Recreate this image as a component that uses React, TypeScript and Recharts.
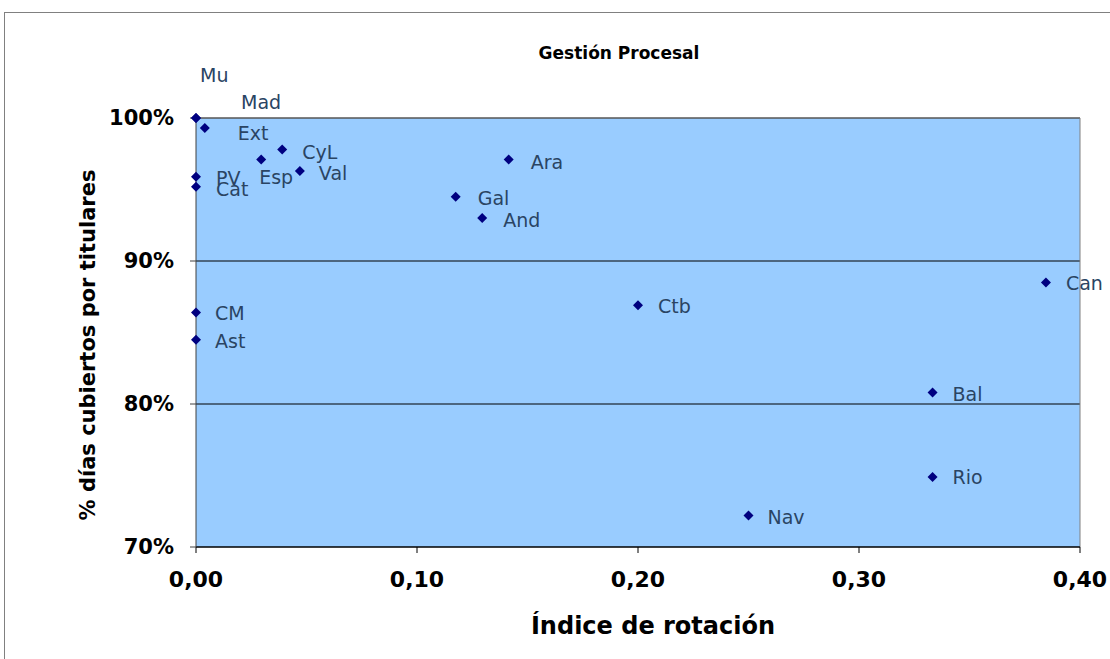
import React from 'react';
import {
  ScatterChart,
  Scatter,
  XAxis,
  YAxis,
  CartesianGrid,
  ReferenceLine,
  Label,
} from 'recharts';

const regions = ['Mu', 'Mad', 'Ext', 'CyL', 'Esp', 'Val', 'PV', 'Cat', 'Ara', 'Gal', 'And', 'Can', 'Ctb', 'CM', 'Ast', 'Bal', 'Rio', 'Nav'];
const rotationIndex = [0, 0, 0.004, 0.039, 0.0295, 0.047, 0, 0, 0.1415, 0.1175, 0.1295, 0.3846, 0.2, 0, 0, 0.3333, 0.3333, 0.25];
const coveredDays = [1.0, 1.0, 0.993, 0.978, 0.971, 0.963, 0.959, 0.952, 0.971, 0.945, 0.93, 0.885, 0.869, 0.864, 0.845, 0.808, 0.749, 0.722];

const xTicks = [0, 0.1, 0.2, 0.3, 0.4];
const yTicks = [0.7, 0.8, 0.9, 1.0];

// label placement offsets (style), relative to each point
const labelDx = [4, 45, 33, 20, -2, 19, 20, 20, 22, 22, 21, 20, 20, 19, 19, 20, 20, 19];
const labelDy = [-43, -16, 5, 3, 18, 2, 1, 2, 3, 1, 2, 1, 1, 1, 1, 1, 0, 1];

const data = regions.map((name, i) => ({ name, x: rotationIndex[i], y: coveredDays[i], i }));

const FONT = '"DejaVu Sans", Verdana, sans-serif';

const PointShape = (props: any) => {
  const { cx, cy, payload } = props;
  if (cx == null || cy == null) return null;
  const i = payload.i;
  const s = 5;
  return (
    <g>
      <polygon
        points={`${cx},${cy - s} ${cx + s},${cy} ${cx},${cy + s} ${cx - s},${cy}`}
        fill="#000080"
      />
      <text
        x={cx + labelDx[i]}
        y={cy + labelDy[i]}
        dominantBaseline="central"
        fontFamily={FONT}
        fontSize={19}
        fill="#2A4463"
      >
        {payload.name}
      </text>
    </g>
  );
};

const XTitle = (props: any) => {
  const vb = props.viewBox || {};
  return (
    <text
      x={vb.x + vb.width / 2 + 15}
      y={626}
      textAnchor="middle"
      dominantBaseline="central"
      fontFamily={FONT}
      fontWeight="bold"
      fontSize={24}
      fill="#000"
    >
      Índice de rotación
    </text>
  );
};

const YTitle = () => {
  const cy = 345;
  const cx = 88;
  return (
    <text
      x={cx}
      y={cy}
      transform={`rotate(-90, ${cx}, ${cy})`}
      textAnchor="middle"
      dominantBaseline="central"
      fontFamily={FONT}
      fontWeight="bold"
      fontSize={21}
      fill="#000"
    >
      % días cubiertos por titulares
    </text>
  );
};

export default function App() {
  return (
    <div style={{ position: 'absolute', left: 0, top: 0, width: 1110, height: 659, background: '#fff', overflow: 'hidden' }}>
      <div style={{ position: 'absolute', left: 4, top: 12, width: 1200, height: 700, border: '1px solid #808080', boxSizing: 'border-box' }} />
      <div
        style={{
          position: 'absolute',
          left: 0,
          width: 1238,
          top: 43,
          textAlign: 'center',
          fontFamily: FONT,
          fontWeight: 'bold',
          fontSize: 17,
          color: '#000',
        }}
      >
        Gestión Procesal
      </div>
      <div style={{ position: 'absolute', left: 0, top: 0 }}>
        <ScatterChart width={1110} height={659} margin={{ top: 118, right: 30, bottom: 32, left: 76 }}>
          <CartesianGrid horizontal vertical={false} stroke="#000" fill="#99CCFF" />
          <XAxis
            type="number"
            dataKey="x"
            domain={[0, 0.4]}
            ticks={xTicks}
            height={80}
            stroke="#000"
            tickSize={6}
            tickFormatter={(v: number) => v.toFixed(2).replace('.', ',')}
            tick={{ fontFamily: FONT, fontWeight: 'bold', fontSize: 22, fill: '#000' }}
            tickMargin={18}
          >
            <Label content={XTitle} />
          </XAxis>
          <YAxis
            type="number"
            dataKey="y"
            domain={[0.7, 1.0]}
            ticks={yTicks}
            width={120}
            stroke="#404040"
            tickSize={6}
            tickMargin={16}
            tickFormatter={(v: number) => `${Math.round(v * 100)}%`}
            tick={{ fontFamily: FONT, fontWeight: 'bold', fontSize: 21, fill: '#000' }}
          >
            <Label content={YTitle} />
          </YAxis>
          <ReferenceLine y={1.0} stroke="#808080" />
          <ReferenceLine x={0.4} stroke="#808080" />
          <Scatter data={data} shape={PointShape} isAnimationActive={false} />
        </ScatterChart>
      </div>
    </div>
  );
}
